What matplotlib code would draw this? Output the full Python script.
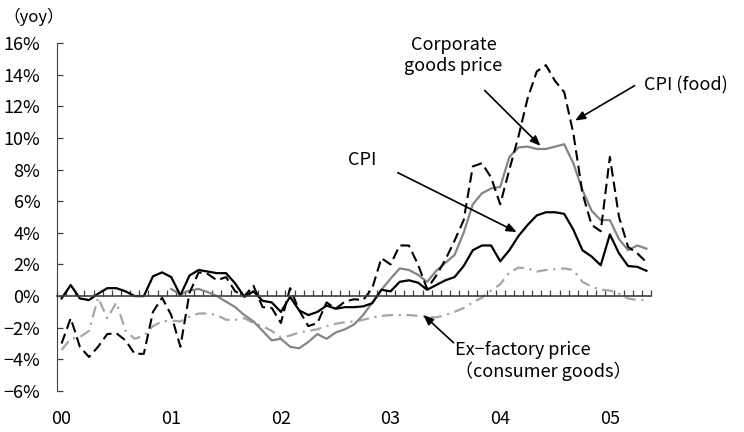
import numpy as np
import matplotlib.pyplot as plt

plt.rcParams['font.family'] = ['Noto Sans CJK JP', 'DejaVu Sans']

# monthly yoy %, Jan 2000 - May 2005
cpi = [-0.15, 0.7, -0.15, -0.25, 0.15, 0.5, 0.5, 0.3, 0.0, 0.0, 1.25, 1.5,
       1.2, 0.05, 1.3, 1.65, 1.55, 1.45, 1.45, 0.8, -0.05, 0.3, -0.3, -0.4,
       -1.0, -0.05, -0.9, -1.2, -1.0, -0.6, -0.8, -0.7, -0.7, -0.65, -0.45, 0.4,
       0.3, 0.9, 1.0, 0.85, 0.4, 0.7, 1.0, 1.2, 1.9, 2.9, 3.2, 3.2,
       2.2, 2.9, 3.8, 4.5, 5.1, 5.3, 5.3, 5.2, 4.2, 2.9, 2.5, 1.95,
       3.9, 2.7, 1.9, 1.85, 1.6]
cpi_food = [-3.0, -1.4, -3.2, -3.85, -3.2, -2.4, -2.35, -2.8, -3.65, -3.65, -1.0, -0.1,
            -1.2, -3.2, 0.2, 1.5, 1.4, 1.0, 1.2, 0.3, 0.0, 0.65, -0.7, -0.75,
            -1.7, 0.5, -0.9, -1.9, -1.7, -0.4, -0.8, -0.35, -0.2, -0.25, 0.5, 2.4,
            2.0, 3.2, 3.2, 2.0, 0.45, 1.3, 2.3, 3.5, 4.8, 8.2, 8.4, 7.5,
            5.8, 8.0, 10.1, 12.5, 14.2, 14.6, 13.6, 12.9, 10.3, 6.5, 4.5, 4.1,
            8.8, 5.0, 3.1, 2.7, 2.15]
# corporate goods price starts Jan 2001
corp_start = 12
corp_goods = [0.45, 0.1, 0.35, 0.45, 0.25, 0.0, -0.35, -0.7, -1.2, -1.6, -2.2, -2.8,
              -2.7, -3.2, -3.3, -2.9, -2.4, -2.7, -2.3, -2.1, -1.8, -1.2, -0.4, 0.4,
              1.1, 1.75, 1.65, 1.35, 0.9, 1.6, 2.1, 2.6, 4.0, 5.8, 6.5, 6.8,
              6.9, 8.8, 9.4, 9.45, 9.3, 9.3, 9.45, 9.6, 8.4, 6.7, 5.4, 4.8,
              4.8, 3.6, 2.9, 3.2, 3.0]
ex_factory = [-3.4, -2.7, -2.6, -2.2, -0.1, -1.4, -0.4, -2.2, -2.7, -2.5, -1.9, -1.6,
              -1.55, -1.6, -1.3, -1.1, -1.1, -1.2, -1.5, -1.5, -1.4, -1.7, -1.9, -2.2,
              -2.6, -2.5, -2.3, -2.2, -2.1, -1.9, -1.75, -1.65, -1.6, -1.5, -1.35, -1.25,
              -1.2, -1.2, -1.2, -1.25, -1.3, -1.35, -1.2, -1.0, -0.75, -0.4, -0.1, 0.35,
              0.75, 1.5, 1.8, 1.75, 1.55, 1.65, 1.7, 1.75, 1.65, 0.9, 0.6, 0.4,
              0.35, 0.15, -0.15, -0.25, -0.25]

year_labels = ['00', '01', '02', '03', '04', '05']
year_starts = [0, 12, 24, 36, 48, 60]
y_ticks = [-6, -4, -2, 0, 2, 4, 6, 8, 10, 12, 14, 16]
y_labels = ['−6%', '−4%', '−2%', '0%', '2%', '4%', '6%', '8%', '10%', '12%', '14%', '16%']

x = np.arange(len(cpi)) + 0.5
x_corp = np.arange(corp_start, corp_start + len(corp_goods)) + 0.5

fig = plt.figure(figsize=(7.44, 4.32), dpi=100)
ax = fig.add_axes([57/744, 41/432, 594/744, 348/432])

ax.plot(x, ex_factory, color='#a6a6a6', lw=1.6, ls=(0, (5, 2.5, 1, 2.5)))
ax.plot(x_corp, corp_goods, color='#858585', lw=1.6)
ax.plot(x, cpi_food, color='black', lw=1.5, ls=(0, (5, 2.5)))
ax.plot(x, cpi, color='black', lw=1.6)

ax.set_xlim(0, len(cpi))
ax.set_ylim(-6, 16)
ax.spines[['top', 'right']].set_visible(False)
ax.spines['bottom'].set_position(('data', 0))
ax.spines['bottom'].set_color('#404040')
ax.spines['bottom'].set_linewidth(1.2)
ax.spines['left'].set_color('#404040')
ax.set_xticks(np.arange(len(cpi) + 1))
ax.tick_params(axis='x', direction='in', length=4.5, width=0.9, colors='#404040', labelbottom=False)
ax.set_yticks(y_ticks)
ax.set_yticklabels(y_labels)
ax.tick_params(axis='y', direction='in', length=4.5, width=0.9, pad=12, labelsize=13,
               colors='#404040', labelcolor='black')

for pos, lab in zip(year_starts, year_labels):
    ax.text(pos + 0.5, -7.8, lab, ha='center', va='center', fontsize=13)

fig.text(3/744, 1 - 17/432, '（yoy）', ha='left', va='center', fontsize=12)

arrow = dict(arrowstyle='-|>,head_length=0.6,head_width=0.25', color='black', lw=1.2,
             shrinkA=0, shrinkB=0)
ax.text(43.4, 15.2, 'Corporate\ngoods price', ha='center', va='center', fontsize=13,
        linespacing=1.2)
ax.annotate('', xy=(52.9, 9.5), xytext=(46.8, 13.0), arrowprops=arrow,
            annotation_clip=False)
ax.text(64.2, 13.35, 'CPI (food)', ha='left', va='center', fontsize=13, clip_on=False)
ax.annotate('', xy=(56.7, 11.1), xytext=(63.2, 13.3), arrowprops=arrow,
            annotation_clip=False)
ax.text(33.4, 8.6, 'CPI', ha='center', va='center', fontsize=13)
ax.annotate('', xy=(50.3, 4.05), xytext=(37.3, 7.8), arrowprops=arrow)
ax.text(43.6, -4.1, 'Ex−factory price\n（consumer goods）', ha='left', va='center',
        fontsize=13, linespacing=1.2)
ax.annotate('', xy=(40.1, -1.2), xytext=(43.4, -2.95), arrowprops=arrow)

fig.savefig('out.png', dpi=100)
